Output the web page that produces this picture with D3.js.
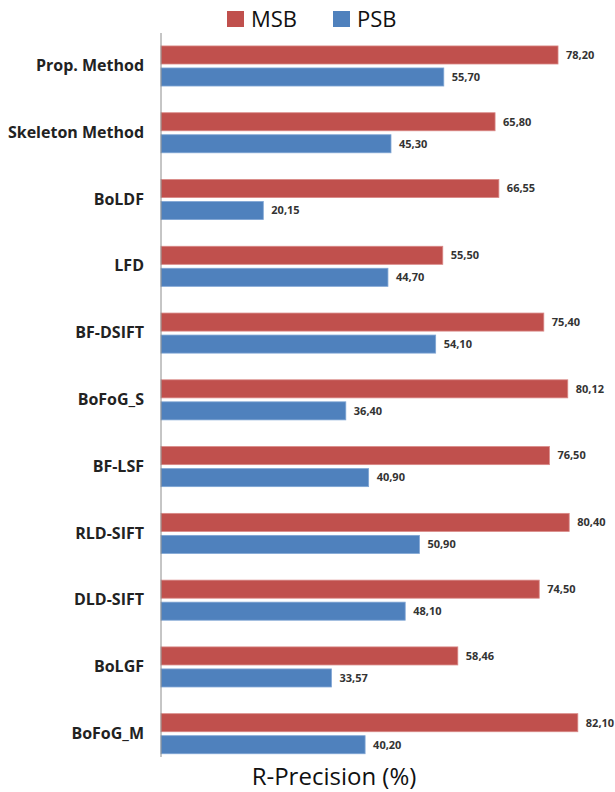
<!DOCTYPE html>
<html>
<head>
<meta charset="utf-8">
<script src="https://cdn.jsdelivr.net/npm/d3@7"></script>
<style>
  html, body { margin: 0; padding: 0; background: #fff; }
  svg { display: block; }
</style>
</head>
<body>
<svg id="chart" width="615" height="792"></svg>
<script>
// R-Precision (%) of retrieval methods on two benchmarks
const methods = ["Prop. Method", "Skeleton Method", "BoLDF", "LFD", "BF-DSIFT", "BoFoG_S",
                 "BF-LSF", "RLD-SIFT", "DLD-SIFT", "BoLGF", "BoFoG_M"];
const seriesNames = ["MSB", "PSB"];
const msbValues = [78.20, 65.80, 66.55, 55.50, 75.40, 80.12, 76.50, 80.40, 74.50, 58.46, 82.10];
const psbValues = [55.70, 45.30, 20.15, 44.70, 54.10, 36.40, 40.90, 50.90, 48.10, 33.57, 40.20];
const colors = { MSB: "#C0504D", PSB: "#4F81BD" };
const borders = { MSB: "#D98886", PSB: "#7FA5D4" };

const rows = methods.map((m, i) => ({ method: m, MSB: msbValues[i], PSB: psbValues[i] }));

const svg = d3.select("#chart");
const axisX = 161;

const x = d3.scaleLinear().domain([0, 100]).range([axisX, axisX + 507.7]);
const y0 = d3.scaleBand().domain(methods).range([32.6, 767.1]).paddingInner(0.4).paddingOuter(0.2);
const y1 = d3.scaleBand().domain(seriesNames).range([0, y0.bandwidth()]).paddingInner(0.18);

const fmt = v => d3.format(".2f")(v).replace(".", ",");

// bars
const groups = svg.append("g").selectAll("g")
  .data(rows).join("g")
  .attr("transform", d => `translate(0,${y0(d.method)})`);

groups.selectAll("rect")
  .data(d => seriesNames.map(s => ({ s, v: d[s] })))
  .join("rect")
  .attr("x", x(0))
  .attr("y", d => y1(d.s))
  .attr("width", d => x(d.v) - x(0))
  .attr("height", y1.bandwidth())
  .attr("fill", d => colors[d.s])
  .attr("stroke", d => borders[d.s])
  .attr("stroke-width", 0.8);

// value labels
groups.selectAll("text")
  .data(d => seriesNames.map(s => ({ s, v: d[s] })))
  .join("text")
  .attr("x", d => x(d.v) + 8)
  .attr("y", d => y1(d.s) + y1.bandwidth() / 2)
  .attr("dy", "0.35em")
  .attr("font-family", "Open Sans, sans-serif")
  .attr("font-weight", "bold")
  .attr("font-size", 11)
  .attr("fill", "#333")
  .text(d => fmt(d.v));

// vertical category axis
const yAxis = d3.axisLeft(y0).tickSize(0).tickPadding(17);
const ag = svg.append("g").attr("transform", `translate(${axisX},0)`).call(yAxis);
ag.select(".domain").remove();
ag.selectAll("text")
  .attr("font-family", "Open Sans, sans-serif")
  .attr("font-weight", "bold")
  .attr("font-size", 16)
  .attr("fill", "#222");
svg.append("line")
  .attr("x1", axisX).attr("x2", axisX)
  .attr("y1", 33).attr("y2", 757)
  .attr("stroke", "#8C8C8C").attr("stroke-width", 1);

// legend
const legend = svg.append("g");
const legendX = { MSB: 227, PSB: 333 };
seriesNames.forEach(s => {
  legend.append("rect")
    .attr("x", legendX[s]).attr("y", 11)
    .attr("width", 17).attr("height", 16)
    .attr("fill", colors[s]);
  legend.append("text")
    .attr("x", legendX[s] + 24).attr("y", 27)
    .attr("font-family", "Open Sans, sans-serif")
    .attr("font-size", 22)
    .attr("fill", "#111")
    .text(s);
});

// axis title
svg.append("text")
  .attr("x", 334).attr("y", 785)
  .attr("text-anchor", "middle")
  .attr("font-family", "Open Sans, sans-serif")
  .attr("font-size", 24)
  .attr("fill", "#111")
  .text("R-Precision (%)");
</script>
</body>
</html>
